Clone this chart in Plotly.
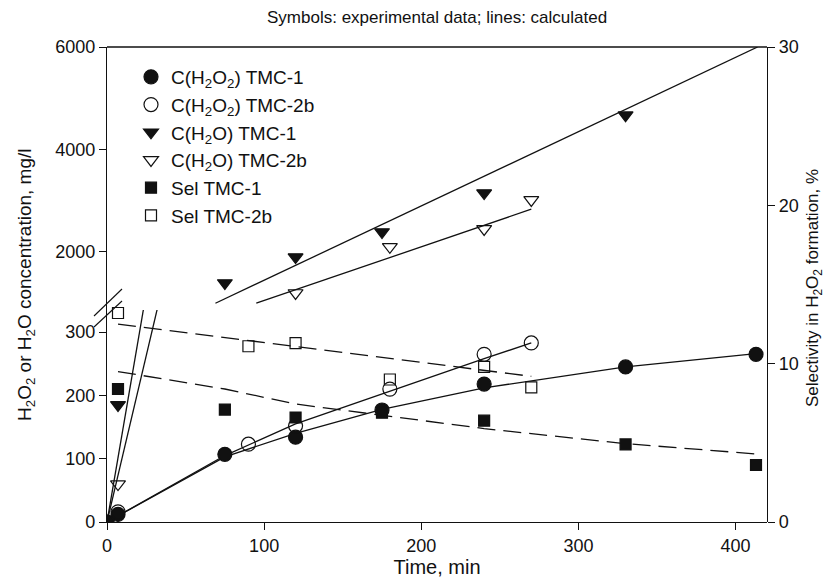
import plotly.graph_objects as go

# ---------------- data ----------------
# H2O2 concentration, mg/l (experimental)
h2o2_t1 = [0, 7, 75, 120, 175, 240, 330, 413]
h2o2_y1 = [0, 12, 107, 134, 177, 218, 245, 265]
h2o2_t2 = [0, 7, 90, 120, 180, 240, 270]
h2o2_y2 = [0, 16, 123, 152, 210, 265, 283]
# H2O2 calculated
h2o2c_t1 = [0, 75, 120, 175, 240, 330, 413]
h2o2c_y1 = [0, 103, 140, 178, 212, 245, 266]
h2o2c_t2 = [0, 75, 120, 180, 240, 270]
h2o2c_y2 = [0, 105, 155, 207, 258, 283]

# H2O concentration, mg/l (experimental)
h2o_t1 = [0, 7, 75, 120, 175, 240, 330]
h2o_y1 = [0, 185, 1395, 1900, 2390, 3150, 4670]
h2o_t2 = [0, 7, 120, 180, 240, 270]
h2o_y2 = [0, 60, 1200, 2100, 2450, 3015]
# H2O calculated (straight lines)
h2oc_t1 = [0, 69, 414]
h2oc_y1 = [0, 1000, 6000]
h2oc_t2 = [0, 95, 270]
h2oc_y2 = [0, 1000, 2835]

# Selectivity, % (experimental)
sel_t1 = [7, 75, 120, 175, 240, 330, 413]
sel_y1 = [8.4, 7.1, 6.6, 6.9, 6.4, 4.9, 3.6]
sel_t2 = [7, 90, 120, 180, 240, 270]
sel_y2 = [13.2, 11.1, 11.3, 9.0, 9.8, 8.5]
# Selectivity calculated
selc_t1 = [7, 75, 120, 175, 240, 330, 413]
selc_y1 = [9.5, 8.4, 7.45, 6.75, 5.9, 4.95, 4.3]
selc_t2 = [7, 270]
selc_y2 = [12.5, 9.2]

x_ticks = [0, 100, 200, 300, 400]
low_ticks = [0, 100, 200, 300]
up_ticks = [2000, 4000, 6000]
sel_ticks = [0, 10, 20, 30]

LOW_MAX = 335
UP_MIN = 868

# ---------------- geometry (page pixels) ----------------
PAGE_W, PAGE_H = 833, 585
OFF = 8                      # default body margin of the page
W, H = PAGE_W - OFF, PAGE_H - OFF
L, R, T, B = 107, 767, 47, 522
split_px = 310
d = (B - split_px) / (B - T)

def px(xp):
    return (xp - L) / (R - L)

def py(yp):
    return (B - yp) / (B - T)

FONT = "Liberation Sans, Arial, sans-serif"
BLACK = "#111111"
LW = 1.3

fig = go.Figure()

def line(t, y, yaxis, dash="solid"):
    fig.add_trace(go.Scatter(x=t, y=y, yaxis=yaxis, mode="lines",
                             line=dict(color=BLACK, width=LW, dash=dash),
                             showlegend=False, hoverinfo="skip"))

# calculated lines
line(h2o2c_t1, h2o2c_y1, "y")
line(h2o2c_t2, h2o2c_y2, "y")
line(h2oc_t1[:2], h2oc_y1[:2], "y")
line(h2oc_t2[:2], h2oc_y2[:2], "y")
line(h2oc_t1[1:], h2oc_y1[1:], "y3")
line(h2oc_t2[1:], h2oc_y2[1:], "y3")
line(selc_t1, selc_y1, "y2", dash="18px,8px")
line(selc_t2, selc_y2, "y2", dash="18px,8px")

def pts(t, y, yaxis, symbol, size, name, show, group):
    fig.add_trace(go.Scatter(x=t, y=y, yaxis=yaxis, mode="markers", name=name,
                             legendgroup=group, showlegend=show,
                             marker=dict(symbol=symbol, size=size, color=BLACK,
                                         line=dict(color=BLACK, width=1.2))))

def split_pts(t, y, symbol, size, name, group):
    lt = [a for a, b in zip(t, y) if b <= LOW_MAX]
    ly = [b for b in y if b <= LOW_MAX]
    ut = [a for a, b in zip(t, y) if b > LOW_MAX]
    uy = [b for b in y if b > LOW_MAX]
    pts(lt, ly, "y", symbol, size, name, True, group)
    if ut:
        pts(ut, uy, "y3", symbol, size, name, False, group)

split_pts(h2o2_t1, h2o2_y1, "circle", 14, "C(H<sub>2</sub>O<sub>2</sub>) TMC-1", "a")
split_pts(h2o2_t2, h2o2_y2, "circle-open", 14, "C(H<sub>2</sub>O<sub>2</sub>) TMC-2b", "b")
split_pts(h2o_t1, h2o_y1, "triangle-down", 13, "C(H<sub>2</sub>O) TMC-1", "c")
split_pts(h2o_t2, h2o_y2, "triangle-down-open", 13, "C(H<sub>2</sub>O) TMC-2b", "d")
pts(sel_t1, sel_y1, "y2", "square", 11, "Sel TMC-1", True, "e")
pts(sel_t2, sel_y2, "y2", "square-open", 11, "Sel TMC-2b", True, "f")

axis_common = dict(showline=True, linecolor=BLACK, linewidth=LW, ticks="outside",
                   ticklen=7, tickwidth=LW, tickcolor=BLACK, showgrid=False,
                   zeroline=False, tickfont=dict(family=FONT, size=18, color=BLACK))

fig.update_layout(
    width=W, height=H,
    margin=dict(l=L - OFF, r=PAGE_W - R, t=T - OFF, b=PAGE_H - B, pad=0, autoexpand=False),
    paper_bgcolor="white", plot_bgcolor="rgba(0,0,0,0)",
    font=dict(family=FONT, color=BLACK),
    xaxis=dict(domain=[0, 1], range=[0, 420], anchor="y", tickvals=x_ticks,
               title=dict(text="Time, min", font=dict(family=FONT, size=20, color=BLACK),
                          standoff=4),
               **axis_common),
    yaxis=dict(domain=[0, d], range=[0, LOW_MAX], anchor="x", tickvals=low_ticks,
               **axis_common),
    yaxis3=dict(domain=[d, 1], range=[UP_MIN, 6000], anchor="x", tickvals=up_ticks,
                **axis_common),
    yaxis2=dict(domain=[0, 1], range=[0, 30], anchor="x", side="right", tickvals=sel_ticks,
                **axis_common),
    legend=dict(x=px(131), y=py(58), xanchor="left", yanchor="top",
                bgcolor="rgba(0,0,0,0)", font=dict(family=FONT, size=19, color=BLACK),
                tracegroupgap=0, itemwidth=30),
    showlegend=True,
)

# chart heading
fig.add_annotation(text="Symbols: experimental data; lines: calculated",
                   xref="paper", yref="paper", x=px(437), y=py(17),
                   showarrow=False, xanchor="center", yanchor="middle",
                   font=dict(family=FONT, size=17, color=BLACK))
# left axis title (axis is split in two)
fig.add_annotation(text="H<sub>2</sub>O<sub>2</sub> or H<sub>2</sub>O concentration, mg/l",
                   xref="paper", yref="paper", x=px(26), y=py(285), textangle=-90,
                   showarrow=False, xanchor="center", yanchor="middle",
                   font=dict(family=FONT, size=19, color=BLACK))
# right axis title
fig.add_annotation(text="Selectivity in H<sub>2</sub>O<sub>2</sub> formation, %",
                   xref="paper", yref="paper", x=px(814), y=py(288), textangle=-90,
                   showarrow=False, xanchor="center", yanchor="middle",
                   font=dict(family=FONT, size=17, color=BLACK))

# top frame line and axis-break marks
fig.add_shape(type="line", xref="paper", yref="paper", x0=0, x1=1, y0=1, y1=1,
              line=dict(color=BLACK, width=LW))
for (x0, y0, x1, y1) in [(94, 316, 122, 289), (94, 327, 122, 301)]:
    fig.add_shape(type="line", xref="paper", yref="paper",
                  x0=px(x0), y0=py(y0), x1=px(x1), y1=py(y1),
                  line=dict(color=BLACK, width=1.1))

fig.write_html("out.html")
